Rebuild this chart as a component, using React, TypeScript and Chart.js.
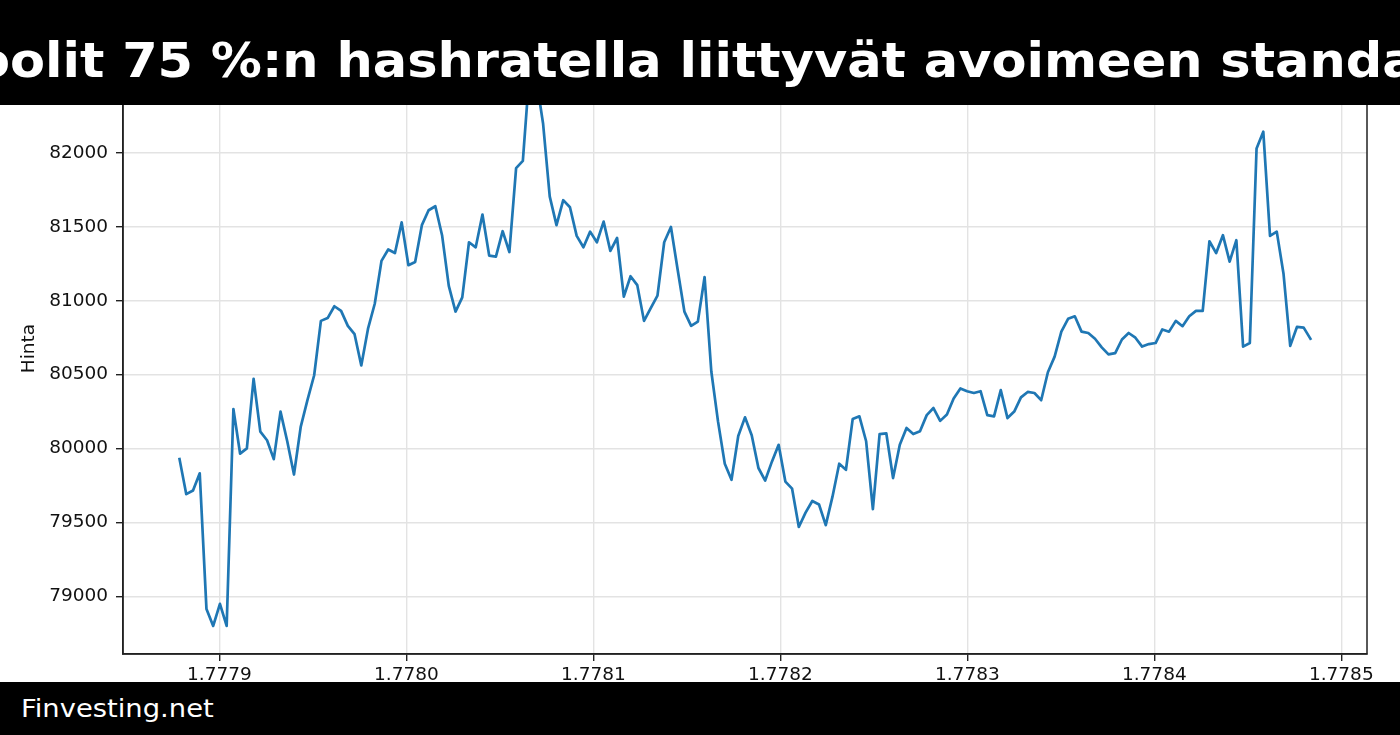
import React, { useEffect, useRef } from "react";
import { Chart, registerables } from "chart.js";

Chart.register(...registerables);

// Hourly observations (unix seconds), shown on the axis in units of 1e9 s
const START_TS = 1777878680;
const STEP_S = 3600;

const prices: number[] = [
  79928, 79691, 79716, 79832, 78913, 78799, 78949, 78799, 80267, 79965,
  80001, 80472, 80114, 80056, 79928, 80250, 80049, 79824, 80146, 80327,
  80496, 80864, 80883, 80963, 80932, 80830, 80774, 80562, 80811, 80980,
  81270, 81347, 81323, 81531, 81241, 81263, 81512, 81613, 81640, 81444,
  81101, 80927, 81023, 81396, 81362, 81584, 81306, 81299, 81471, 81330,
  81898, 81947, 82560, 82500, 82202, 81705, 81512, 81681, 81633, 81439,
  81362, 81468, 81396, 81536, 81338, 81425, 81028, 81166, 81106, 80864,
  80951, 81035, 81396, 81500, 81210, 80927, 80830, 80859, 81161, 80521,
  80182, 79897, 79788, 80085, 80211, 80090, 79868, 79783, 79911, 80025,
  79776, 79728, 79469, 79566, 79645, 79621, 79481, 79674, 79897, 79856,
  80199, 80218, 80049, 79590, 80098, 80102, 79800, 80025, 80139, 80098,
  80117, 80226, 80274, 80187, 80230, 80339, 80407, 80388, 80376, 80388,
  80226, 80218, 80395, 80206, 80250, 80346, 80383, 80376, 80327, 80516,
  80622, 80791, 80878, 80895, 80791, 80782, 80743, 80685, 80637, 80646,
  80738, 80782, 80750, 80690, 80707, 80714, 80806, 80791, 80864, 80828,
  80895, 80932, 80932, 81403, 81323, 81444, 81265, 81410, 80690, 80714,
  82031, 82145, 81439, 81468, 81185, 80695, 80823, 80818, 80743,
];

const timestamps: number[] = prices.map((_, i) => START_TS + i * STEP_S);

const X_MIN = 1777848440;
const X_MAX = 1778513745;
const X_TICKS: number[] = [
  1777900000, 1778000000, 1778100000, 1778200000, 1778300000, 1778400000,
  1778500000,
];
const Y_MIN = 78609;
const Y_MAX = 82745;
const Y_TICKS: number[] = [79000, 79500, 80000, 80500, 81000, 81500, 82000, 82500];

const TITLE_HEAD = "Po";
const TITLE_REST = "olit 75 %:n hashratella liittyvät avoimeen standardiin";
const Y_LABEL = "Hinta";
const FOOTER = "Finvesting.net";

const FONT = "'DejaVu Sans', 'Liberation Sans', sans-serif";

const framePlugin = {
  id: "frame",
  afterDraw(chart: any) {
    const { ctx, chartArea } = chart;
    ctx.save();
    ctx.strokeStyle = "#222";
    ctx.lineWidth = 1.5;
    ctx.strokeRect(
      chartArea.left,
      chartArea.top,
      chartArea.right - chartArea.left,
      chartArea.bottom - chartArea.top
    );
    ctx.restore();
  },
};

const titleStyle: React.CSSProperties = {
  position: "absolute",
  top: 36.1,
  lineHeight: "48px",
  fontSize: 48,
  fontWeight: "bold",
  fontFamily: FONT,
  color: "#fff",
  whiteSpace: "nowrap",
};

export default function App() {
  const canvasRef = useRef<HTMLCanvasElement | null>(null);

  useEffect(() => {
    if (!canvasRef.current) return;
    const data = timestamps.map((t, i) => ({ x: t, y: prices[i] }));
    const chart = new Chart(canvasRef.current, {
      type: "line",
      data: {
        datasets: [
          {
            data,
            borderColor: "#1f77b4",
            borderWidth: 2.7,
            pointRadius: 0,
            tension: 0,
            fill: false,
            borderJoinStyle: "round",
            borderCapStyle: "square",
          },
        ],
      },
      options: {
        responsive: false,
        animation: false,
        devicePixelRatio: 1,
        layout: { padding: { left: 0, right: 33, top: 43, bottom: 0 } },
        plugins: {
          legend: { display: false },
          tooltip: { enabled: false },
          title: { display: false },
        },
        scales: {
          x: {
            type: "linear",
            min: X_MIN,
            max: X_MAX,
            afterBuildTicks: (scale: any) => {
              scale.ticks = X_TICKS.map((v) => ({ value: v }));
            },
            afterFit: (scale: any) => {
              scale.height = 81;
            },
            ticks: {
              autoSkip: false,
              maxRotation: 0,
              padding: 3,
              color: "#111",
              font: { family: FONT, size: 18.5 },
              callback: (v: any) => (Number(v) / 1e9).toFixed(4),
            },
            grid: {
              color: "#e3e3e3",
              lineWidth: 1.4,
              tickColor: "#222",
              tickLength: 7,
            },
            border: { display: true, color: "#222", width: 1.5 },
          },
          y: {
            type: "linear",
            min: Y_MIN,
            max: Y_MAX,
            afterBuildTicks: (scale: any) => {
              scale.ticks = Y_TICKS.map((v) => ({ value: v }));
            },
            afterFit: (scale: any) => {
              scale.width = 123;
            },
            ticks: {
              padding: 8,
              color: "#111",
              font: { family: FONT, size: 18.5 },
              callback: (v: any) => String(v),
            },
            grid: {
              color: "#e3e3e3",
              lineWidth: 1.4,
              tickColor: "#222",
              tickLength: 7,
            },
            border: { display: true, color: "#222", width: 1.5 },
            title: {
              display: true,
              text: Y_LABEL,
              color: "#111",
              font: { family: FONT, size: 18.5 },
              padding: { top: 18, bottom: 0 },
            },
          },
        },
      },
      plugins: [framePlugin],
    });
    return () => chart.destroy();
  }, []);

  return (
    <div
      style={{
        position: "fixed",
        left: 0,
        top: 0,
        width: 1400,
        height: 735,
        background: "#fff",
        overflow: "hidden",
      }}
    >
      <canvas
        ref={canvasRef}
        width={1400}
        height={735}
        style={{ position: "absolute", left: 0, top: 0, width: 1400, height: 735 }}
      />
      <div
        style={{
          position: "absolute",
          left: 0,
          top: 0,
          width: 1400,
          height: 105,
          background: "#000",
          overflow: "hidden",
        }}
      >
        <span
          style={{
            ...titleStyle,
            right: 1390,
            transform: "scaleX(1.0625)",
            transformOrigin: "right center",
          }}
        >
          {TITLE_HEAD}
        </span>
        <span
          style={{
            ...titleStyle,
            left: 10,
            transform: "scaleX(1.0625)",
            transformOrigin: "left center",
          }}
        >
          {TITLE_REST}
        </span>
      </div>
      <div
        style={{
          position: "absolute",
          left: 0,
          top: 682,
          width: 1400,
          height: 53,
          background: "#000",
        }}
      >
        <span
          style={{
            position: "absolute",
            left: 21,
            top: 13.5,
            lineHeight: "25px",
            fontSize: 25,
            fontFamily: FONT,
            color: "#fff",
            whiteSpace: "nowrap",
            transform: "scaleX(1.095)",
            transformOrigin: "left center",
          }}
        >
          {FOOTER}
        </span>
      </div>
    </div>
  );
}
